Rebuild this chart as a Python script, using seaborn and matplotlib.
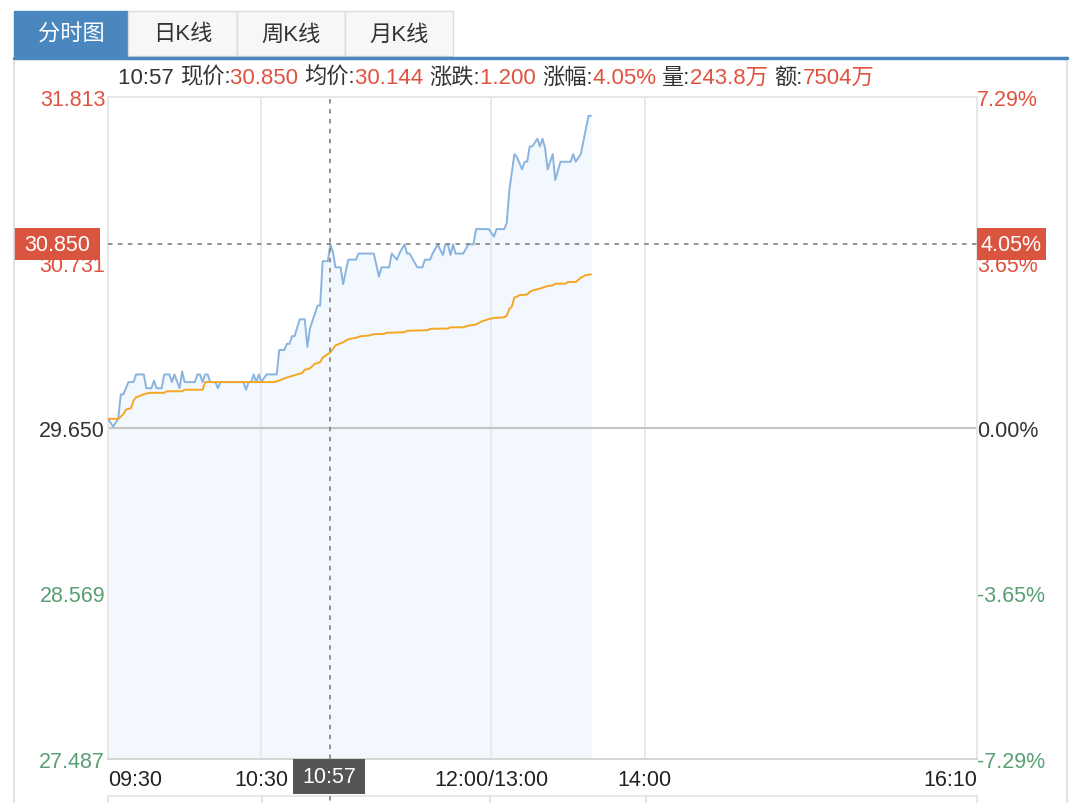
import seaborn as sns
import matplotlib.pyplot as plt
from matplotlib.patches import Rectangle

# minutes after 09:30, lunch break cut out (12:00 and 13:00 share one slot)
price_min = [0, 2, 4, 5, 6, 8, 10, 11, 14, 15, 17, 18, 19, 21, 22, 24, 25, 26, 28, 29,
             30, 34, 35, 36, 37, 38, 39, 40, 42, 43, 44, 53, 54, 55, 56, 57, 58, 59, 60, 62,
             66, 67, 69, 70, 71, 72, 73, 75, 77, 78, 79, 80, 82, 83, 84, 86, 87, 88, 89, 91,
             92, 94, 97, 98, 104, 106, 107, 110, 111, 113, 114, 116, 117, 118, 121, 123, 124, 126, 127, 129,
             131, 132, 133, 134, 135, 136, 139, 141, 143, 144, 149, 151, 152, 155, 156, 157, 159, 160, 162, 163,
             164, 165, 166, 168, 169, 170, 171, 172, 174, 175, 177, 181, 182, 183, 185, 188, 189]
price_val = [29.71, 29.66, 29.71, 29.87, 29.87, 29.95, 29.95, 30.00, 30.00, 29.91, 29.91, 29.96, 29.91, 29.91, 30.00, 30.00, 29.95, 30.00, 29.91, 30.02,
             29.95, 29.95, 30.00, 30.00, 29.95, 30.00, 30.00, 29.95, 29.95, 29.91, 29.95, 29.95, 29.90, 29.95, 29.95, 30.00, 29.95, 30.00, 29.95, 30.00,
             30.00, 30.16, 30.16, 30.20, 30.20, 30.25, 30.25, 30.36, 30.36, 30.18, 30.30, 30.35, 30.45, 30.45, 30.74, 30.74, 30.85, 30.80, 30.70, 30.70,
             30.59, 30.75, 30.75, 30.79, 30.79, 30.64, 30.70, 30.70, 30.79, 30.75, 30.79, 30.85, 30.79, 30.79, 30.70, 30.70, 30.75, 30.75, 30.79, 30.85,
             30.78, 30.85, 30.85, 30.78, 30.85, 30.79, 30.79, 30.85, 30.85, 30.95, 30.95, 30.90, 30.95, 30.95, 30.99, 31.20, 31.44, 31.42, 31.34, 31.39,
             31.39, 31.49, 31.49, 31.54, 31.49, 31.54, 31.48, 31.34, 31.44, 31.27, 31.39, 31.39, 31.44, 31.39, 31.44, 31.69, 31.69]

avg_min = [0, 4, 6, 7, 9, 10, 11, 14, 16, 22, 23, 29, 30, 37, 38, 65, 67, 70, 72, 74,
           76, 77, 79, 81, 83, 84, 87, 89, 92, 94, 97, 99, 102, 104, 108, 109, 116, 117, 125, 126,
           133, 134, 139, 141, 144, 146, 149, 151, 155, 156, 157, 158, 159, 160, 161, 164, 165, 166, 169, 172,
           174, 175, 179, 180, 183, 185, 187, 189]
avg_val = [29.71, 29.71, 29.74, 29.77, 29.78, 29.83, 29.85, 29.87, 29.88, 29.88, 29.89, 29.89, 29.90, 29.90, 29.95, 29.95, 29.96, 29.98, 29.99, 30.00,
           30.01, 30.03, 30.04, 30.07, 30.08, 30.11, 30.144, 30.19, 30.21, 30.23, 30.24, 30.25, 30.254, 30.263, 30.265, 30.272, 30.276, 30.285, 30.289, 30.298,
           30.30, 30.308, 30.308, 30.319, 30.326, 30.345, 30.362, 30.369, 30.373, 30.384, 30.427, 30.444, 30.503, 30.509, 30.518, 30.522, 30.539, 30.548, 30.561, 30.578,
           30.582, 30.593, 30.593, 30.604, 30.604, 30.632, 30.649, 30.654]

y_ticks = [31.813, 30.731, 29.650, 28.569, 27.487]
pct_labels = ['7.29%', '3.65%', '0.00%', '-3.65%', '-7.29%']
x_ticks = [0, 60, 150, 210, 340]
x_labels = ['09:30', '10:30', '12:00/13:00', '14:00', '16:10']
tabs = ['分时图', '日K线', '周K线', '月K线']

cursor_min = 87
cursor_time = '10:57'
cursor_price = 30.850
cursor_pct = '4.05%'
info = [('现价', '30.850'), ('均价', '30.144'), ('涨跌', '1.200'),
        ('涨幅', '4.05%'), ('量', '243.8万'), ('额', '7504万')]

sns.set_style('white')
plt.rcParams['font.family'] = ['Liberation Sans', 'Noto Sans CJK SC', 'DejaVu Sans']

RED = '#e0523f'
GREEN = '#5a9f74'
DARK = '#333333'
GRID = '#e6e6e6'
FS = 15.5
W, H = 1080, 804


def box(l, t, r, b):
    return [l / W, 1 - b / H, (r - l) / W, (b - t) / H]


fig = plt.figure(figsize=(10.8, 8.04), dpi=100)
ax = fig.add_axes(box(108, 98, 977, 760), zorder=1)
top = fig.add_axes([0, 0, 1, 1], zorder=5)
top.set_xlim(0, W)
top.set_ylim(H, 0)
top.axis('off')
top.patch.set_visible(False)

# price area + lines
ax.fill_between(price_min, price_val, y_ticks[-1], color='#f2f8fe', lw=0, zorder=1)
for xv in x_ticks[1:4]:
    ax.axvline(xv, color=GRID, lw=1.2, zorder=1.5)
ax.axhline(y_ticks[2], color='#c4c4c4', lw=1.5, zorder=1.5)
sns.lineplot(x=price_min, y=price_val, ax=ax, color='#8ab4e0', lw=1.4, zorder=3)
sns.lineplot(x=avg_min, y=avg_val, ax=ax, color='#f5a623', lw=1.4, zorder=3)

# crosshair
ax.axvline(cursor_min, color='#8a8a8a', lw=1.3, ls=(0, (2.5, 3)), zorder=4)
ax.axhline(cursor_price, color='#8a8a8a', lw=1.3, ls=(0, (2.5, 3)), zorder=4)

ax.set_xlim(0, 340)
ax.set_ylim(y_ticks[-1], y_ticks[0])
ax.set_xlabel('')
ax.set_ylabel('')
for s in ['left', 'right', 'top']:
    ax.spines[s].set_color('#e3e3e3')
ax.spines['bottom'].set_color('#cfcfcf')
for s in ax.spines.values():
    s.set_linewidth(1.2)

ax.set_xticks(x_ticks, labels=x_labels)
ax.tick_params(axis='x', length=0, pad=7, labelsize=FS, labelcolor='#222222')
xl = ax.get_xticklabels()
xl[0].set_ha('left')
xl[-1].set_ha('right')

ax.set_yticks(y_ticks, labels=['%.3f' % v for v in y_ticks])
ax.tick_params(axis='y', length=0, pad=2, labelsize=FS)
tick_colors = [RED, RED, DARK, GREEN, GREEN]
for lbl, c in zip(ax.get_yticklabels(), tick_colors):
    lbl.set_color(c)

ax2 = ax.twinx()
ax2.set_ylim(ax.get_ylim())
ax2.set_yticks(y_ticks, labels=pct_labels)
ax2.tick_params(axis='y', length=0, pad=0, labelsize=FS)
for lbl, c in zip(ax2.get_yticklabels(), tick_colors):
    lbl.set_color(c)
for s in ax2.spines.values():
    s.set_visible(False)

# frame, tabs
top.plot([14, 14], [58, H], color='#dddddd', lw=1.2)
top.plot([1067, 1067], [58, H], color='#dddddd', lw=1.2)
top.plot([14, 1067], [58.5, 58.5], color='#4a87bf', lw=2.5)
tab_edges = [14, 128, 237, 345, 453]
for i, name in enumerate(tabs):
    sel = i == 0
    top.add_patch(Rectangle((tab_edges[i], 12), tab_edges[i + 1] - tab_edges[i], 45,
                            facecolor='#4a87bf' if sel else '#f7f7f7',
                            edgecolor='#4a87bf' if sel else '#dcdcdc', lw=1))
    top.text((tab_edges[i] + tab_edges[i + 1]) / 2, 35, name, ha='center', va='center',
             fontsize=FS + 0.5, color='white' if sel else DARK)

# lower panel lines
top.plot([108, 977], [797, 797], color='#e3e3e3', lw=1.2)
for xv in [108, 262, 490, 646, 977]:
    top.plot([xv, xv], [797, H], color='#e3e3e3', lw=1.2)

# info line
r = fig.canvas.get_renderer()
x = 118
pieces = [(cursor_time + ' ', DARK)]
for k, (name, val) in enumerate(info):
    pieces.append((name + ':', DARK))
    pieces.append((val + (' ' if k < len(info) - 1 else ''), RED))
for s, c in pieces:
    t = top.text(x, 78, s, ha='left', va='center', fontsize=16, color=c)
    x += t.get_window_extent(renderer=r).width

# cursor boxes
cy = H - ax.transData.transform((0, cursor_price))[1]
cx = ax.transData.transform((cursor_min, 0))[0]
top.add_patch(Rectangle((14, cy - 16), 86, 32, facecolor='#d9553f', lw=0))
top.text(57, cy, '%.3f' % cursor_price, ha='center', va='center', fontsize=FS, color='white')
top.add_patch(Rectangle((977, cy - 16), 69, 32, facecolor='#d9553f', lw=0))
top.text(1011, cy, cursor_pct, ha='center', va='center', fontsize=FS, color='white')
top.plot([cx, cx], [797, H], color='#8a8a8a', lw=1.3, ls=(0, (2.5, 3)))
top.add_patch(Rectangle((cx - 37, 760), 72, 35, facecolor='#555555', lw=0))
top.text(cx - 1, 778, cursor_time, ha='center', va='center', fontsize=FS, color='white')

fig.savefig('out.png', dpi=100)
